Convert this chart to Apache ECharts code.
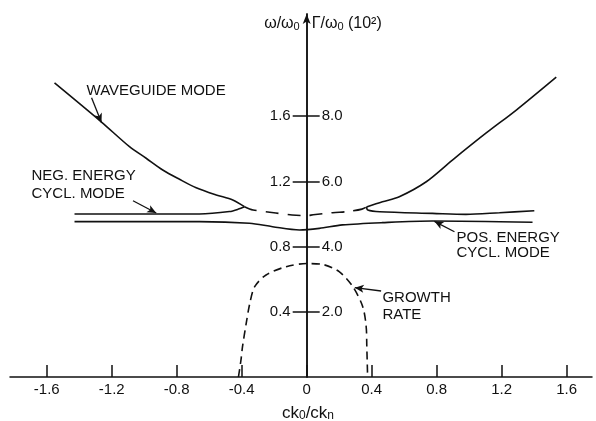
<!DOCTYPE html>
<html>
<head>
<meta charset="utf-8">
<script src="https://cdn.jsdelivr.net/npm/echarts@6/dist/echarts.min.js"></script>
<style>
html,body{margin:0;padding:0;background:#fff;}
#c{width:596px;height:421px;}
</style>
</head>
<body>
<div id="c"></div>
<script>
// ---- data ----
var xTicks = [-1.6, -1.2, -0.8, -0.4, 0, 0.4, 0.8, 1.2, 1.6];
var yTicksOmega = [0.4, 0.8, 1.2, 1.6];
var yTicksGamma = [2, 4, 6, 8];

var waveguideLeftX = [-1.552, -1.263, -1.0905, -0.988, -0.886, -0.783, -0.68, -0.557, -0.455, -0.383];
var waveguideLeftY = [1.804, 1.564, 1.413, 1.342, 1.270, 1.213, 1.161, 1.117, 1.086, 1.045];

var coupledX = [-0.383, -0.33, -0.19, -0.09, 0.0, 0.04, 0.16, 0.26, 0.34, 0.368];
var coupledY = [1.045, 1.025, 1.006, 0.994, 0.99, 0.995, 1.008, 1.016, 1.03, 1.043];

var waveguideRightX = [0.368, 0.466, 0.57, 0.736, 0.897, 1.105, 1.29, 1.536];
var waveguideRightY = [1.043, 1.075, 1.106, 1.198, 1.331, 1.497, 1.638, 1.84];

var negLeftX = [-1.429, -0.924, -0.66, -0.475, -0.42, -0.383];
var negLeftY = [1.0, 1.0, 1.0, 1.015, 1.03, 1.045];

var negRightX = [0.368, 0.376, 0.45, 0.774, 0.98, 1.186, 1.401];
var negRightY = [1.043, 1.025, 1.014, 1.004, 0.998, 1.008, 1.02];

var posX = [-1.429, -0.66, -0.352, -0.21, -0.044, 0.078, 0.22, 0.466, 0.774, 1.39];
var posY = [0.953, 0.953, 0.943, 0.922, 0.902, 0.912, 0.933, 0.947, 0.957, 0.949];

var growthX = [-0.42, -0.405, -0.395, -0.372, -0.35, -0.32, -0.25, -0.126, 0.0, 0.1, 0.2, 0.284, 0.345, 0.366, 0.37, 0.375];
var growthGamma = [0, 0.5, 0.93, 1.65, 2.26, 2.77, 3.13, 3.385, 3.48, 3.45, 3.23, 2.77, 2.155, 1.55, 0.93, 0];

// annotation texts and arrows (data coordinates, omega axis)
var annoTexts = [
  {t: 'WAVEGUIDE MODE', at: [-1.355, 1.755]},
  {t: 'NEG. ENERGY', at: [-1.6935, 1.234]},
  {t: 'CYCL. MODE', at: [-1.6935, 1.1215]},
  {t: 'POS. ENERGY', at: [0.922, 0.854]},
  {t: 'CYCL. MODE', at: [0.922, 0.761]},
  {t: 'GROWTH', at: [0.466, 0.483]},
  {t: 'RATE', at: [0.466, 0.380]}
];
var annoArrows = [
  [[-1.324, 1.713], [-1.263, 1.562]],
  [[-1.069, 1.0816], [-0.926, 1.006]],
  [[0.9095, 0.891], [0.786, 0.955]],
  [[0.458, 0.5276], [0.296, 0.548]]
];

function zip(a, b) { return a.map(function (v, i) { return [v, b[i]]; }); }

var INK = '#111';
var W = 596, GL = 10, GR = 4;
var XMIN = -1.826, XMAX = 1.756;
var gridW = W - GL - GR;
var zeroPx = (0 - XMIN) / (XMAX - XMIN) * gridW;   // distance of x=0 from grid left
var offLeft = -zeroPx;
var offRight = -(gridW - zeroPx);

var chart = echarts.init(document.getElementById('c'), null, {renderer: 'canvas'});

var lineBase = {type: 'line', showSymbol: false, symbol: 'none', smooth: 0.3, silent: true,
  lineStyle: {color: INK, width: 1.6}};

var subRich = {
  s: {fontSize: 11, verticalAlign: 'bottom', lineHeight: 8, fontFamily: 'Liberation Sans', color: INK}
};

var option = {
  animation: false,
  backgroundColor: '#fff',
  grid: {left: GL, right: GR, top: 14, bottom: 44, outerBoundsMode: 'none', containLabel: false},
  xAxis: {
    type: 'value', min: XMIN, max: XMAX,
    axisLine: {onZero: false, lineStyle: {color: INK, width: 1.5}},
    axisTick: {customValues: xTicks, inside: true, length: 12, lineStyle: {color: INK, width: 1.5}},
    axisLabel: {customValues: xTicks, margin: 5, fontSize: 15, color: INK, fontFamily: 'Liberation Sans',
      formatter: function (v) { return v === 0 ? '0' : v.toFixed(1); }},
    splitLine: {show: false},
    name: 'ck{s|0}/ck{s|n}', nameLocation: 'middle', nameGap: 28,
    nameTextStyle: {fontSize: 17, color: INK, fontFamily: 'Liberation Sans', padding: [0, 0, 0, 14],
      rich: {s: {fontSize: 12, verticalAlign: 'bottom', lineHeight: 8, fontFamily: 'Liberation Sans', color: INK}}}
  },
  yAxis: [{
    type: 'value', min: 0, max: 2.227, position: 'left', offset: offLeft,
    axisLine: {onZero: false, symbol: ['none', 'arrow'], symbolSize: [6, 10],
      lineStyle: {color: INK, width: 1.5}},
    axisTick: {customValues: yTicksOmega, length: 14, lineStyle: {color: INK, width: 1.5}},
    axisLabel: {customValues: yTicksOmega, margin: 16, fontSize: 15, color: INK, fontFamily: 'Liberation Sans',
      formatter: function (v) { return v.toFixed(1); }},
    splitLine: {show: false},
    name: 'ω/ω{s|0}', nameLocation: 'end', nameGap: -10, nameMoveOverlap: false,
    nameTextStyle: {fontSize: 16, color: INK, fontFamily: 'Liberation Sans', align: 'right', verticalAlign: 'middle',
      padding: [0, 7, 0, 0], rich: subRich}
  }, {
    type: 'value', min: 0, max: 11.135, position: 'right', offset: offRight,
    axisLine: {onZero: false, lineStyle: {color: INK, width: 1.5}},
    axisTick: {customValues: yTicksGamma, length: 13, lineStyle: {color: INK, width: 1.5}},
    axisLabel: {customValues: yTicksGamma, margin: 15, fontSize: 15, color: INK, fontFamily: 'Liberation Sans',
      formatter: function (v) { return v.toFixed(1); }},
    splitLine: {show: false},
    name: 'Γ/ω{s|0} (10²)', nameLocation: 'end', nameGap: -10, nameMoveOverlap: false,
    nameTextStyle: {fontSize: 16, color: INK, fontFamily: 'Liberation Sans', align: 'left', verticalAlign: 'middle',
      padding: [0, 0, 0, 5], rich: subRich}
  }],
  series: [
    Object.assign({}, lineBase, {name: 'waveguideL', data: zip(waveguideLeftX, waveguideLeftY)}),
    Object.assign({}, lineBase, {name: 'coupled', data: zip(coupledX, coupledY),
      lineStyle: {color: INK, width: 1.6, type: [13, 9]}}),
    Object.assign({}, lineBase, {name: 'waveguideR', data: zip(waveguideRightX, waveguideRightY)}),
    Object.assign({}, lineBase, {name: 'negL', data: zip(negLeftX, negLeftY)}),
    Object.assign({}, lineBase, {name: 'negR', data: zip(negRightX, negRightY)}),
    Object.assign({}, lineBase, {name: 'pos', data: zip(posX, posY),
      markLine: {silent: true, symbol: ['none', 'arrow'], symbolSize: [6, 9], label: {show: false},
        lineStyle: {color: INK, width: 1.3, type: 'solid'},
        data: annoArrows.map(function (a) { return [{coord: a[0]}, {coord: a[1]}]; })}}),
    Object.assign({}, lineBase, {name: 'growth', yAxisIndex: 1, data: zip(growthX, growthGamma),
      lineStyle: {color: INK, width: 1.6, type: [8, 5]}})
  ]
};
chart.setOption(option);

var g = annoTexts.map(function (a) {
  var p = chart.convertToPixel({xAxisIndex: 0, yAxisIndex: 0}, a.at);
  return {type: 'text', silent: true, x: p[0], y: p[1],
    style: {text: a.t, fill: INK, fontSize: 15, fontFamily: 'Liberation Sans', align: 'left', verticalAlign: 'middle'}};
});
chart.setOption({graphic: g});
</script>
</body>
</html>
